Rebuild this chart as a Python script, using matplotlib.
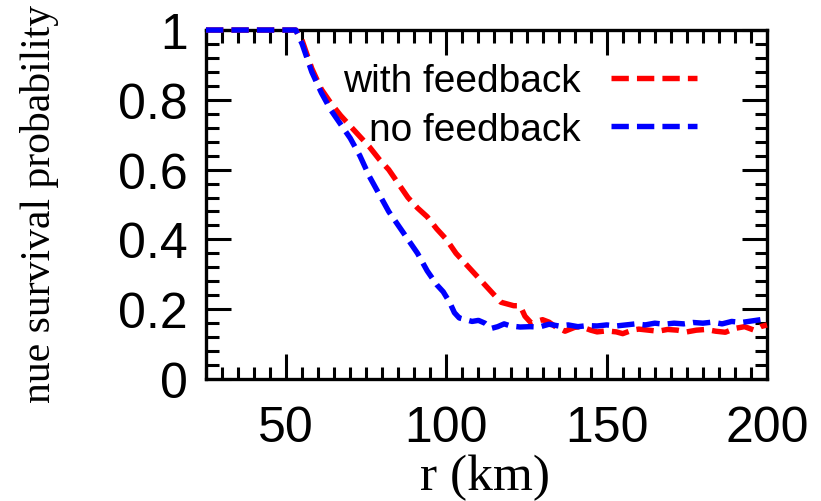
import matplotlib
matplotlib.use('Agg')
import matplotlib.pyplot as plt
from matplotlib.ticker import MultipleLocator

# survival probability vs radius, with and without neutrino feedback
r_fb = [25, 40, 50, 53, 55, 58, 61, 64, 67, 70, 73, 76, 79, 82, 85, 88, 91, 94, 97,
        100, 103, 106, 109, 112, 115, 117, 119, 121, 123, 124.5, 126.5, 128, 130, 132,
        134, 137, 140, 142, 145, 147, 150, 153, 155, 158, 160, 163, 166, 169, 172, 175,
        178, 181, 184, 187, 190, 193, 196, 198, 200]
p_fb = [1.0, 1.0, 1.0, 1.0, 0.97, 0.89, 0.83, 0.79, 0.755, 0.725, 0.695, 0.665, 0.63, 0.60,
        0.56, 0.52, 0.49, 0.465, 0.43, 0.40, 0.36, 0.33, 0.30, 0.27, 0.24, 0.22, 0.215,
        0.21, 0.21, 0.18, 0.16, 0.165, 0.17, 0.163, 0.15, 0.137, 0.148, 0.15, 0.14, 0.135,
        0.138, 0.135, 0.13, 0.14, 0.143, 0.14, 0.137, 0.142, 0.14, 0.135, 0.14, 0.142,
        0.137, 0.134, 0.145, 0.15, 0.14, 0.15, 0.155]

r_nofb = [25, 40, 50, 53, 55, 58, 61, 64, 67, 70, 73, 76, 79, 82, 85, 88, 91, 94, 97, 99,
          101, 102.5, 104, 106, 108, 110, 112, 114, 116, 118, 120, 123, 126, 129, 132, 135,
          138, 141, 144, 147, 150, 153, 156, 159, 162, 165, 168, 171, 174, 177, 180, 183,
          186, 189, 192, 195, 198, 200]
p_nofb = [1.0, 1.0, 1.0, 1.0, 0.96, 0.88, 0.82, 0.77, 0.73, 0.69, 0.64, 0.58, 0.53, 0.48,
          0.44, 0.40, 0.36, 0.31, 0.27, 0.25, 0.22, 0.19, 0.175, 0.17, 0.165, 0.168, 0.16,
          0.145, 0.15, 0.158, 0.152, 0.149, 0.15, 0.149, 0.157, 0.152, 0.155, 0.15, 0.153,
          0.152, 0.155, 0.152, 0.155, 0.158, 0.155, 0.16, 0.157, 0.16, 0.158, 0.162, 0.16,
          0.163, 0.158, 0.165, 0.162, 0.166, 0.17, 0.168]

x_ticks = [50, 100, 150, 200]
y_ticks = [0, 0.2, 0.4, 0.6, 0.8, 1]
y_ticklabels = ['0', '0.2', '0.4', '0.6', '0.8', '1']

sans = 'Liberation Sans'
serif = 'Liberation Serif'


def survival_plot():
    fig = plt.figure(figsize=(8.21, 5.02), dpi=100)
    ax = fig.add_axes([0.2509, 0.243, 0.6833, 0.6952])

    dash = dict(lw=3.9, dashes=(3.2, 1.5), clip_on=False, zorder=3)
    ax.plot(r_fb, p_fb, color='#ff0000', label='with feedback', **dash)
    ax.plot(r_nofb, p_nofb, color='#0000ff', label='no feedback', **dash)

    ax.set_xlim(25, 200)
    ax.set_ylim(0, 1)
    ax.set_xticks(x_ticks)
    ax.set_yticks(y_ticks)
    ax.set_yticklabels(y_ticklabels)
    ax.xaxis.set_minor_locator(MultipleLocator(5))
    ax.yaxis.set_minor_locator(MultipleLocator(0.04))
    ax.tick_params(which='both', direction='in', top=True, right=True, width=2.2, color='black')
    ax.tick_params(which='major', length=18)
    ax.tick_params(which='minor', length=9)
    ax.tick_params(axis='x', which='major', pad=19)
    ax.tick_params(axis='y', which='major', pad=13)
    for lab in ax.get_xticklabels() + ax.get_yticklabels():
        lab.set_family(sans)
        lab.set_fontsize(36)
    for sp in ax.spines.values():
        sp.set_linewidth(2.4)

    ax.set_xlabel('r (km)', family=serif, fontsize=37)
    ax.xaxis.set_label_coords(0.497, -0.213)
    ax.set_ylabel('nue survival probability', family=serif, fontsize=30)
    ax.yaxis.set_label_coords(-0.262, 0.505)

    leg = ax.legend(loc='upper right', bbox_to_anchor=(0.875, 0.905), markerfirst=False,
                    frameon=False, prop={'family': sans, 'size': 28}, handlelength=2.2,
                    handletextpad=0.8, labelspacing=0.32, borderpad=0, borderaxespad=0)
    for line in leg.get_lines():
        line.set_linewidth(3.9)

    fig.savefig('out.png', dpi=100)


if __name__ == "__main__":
    survival_plot()
